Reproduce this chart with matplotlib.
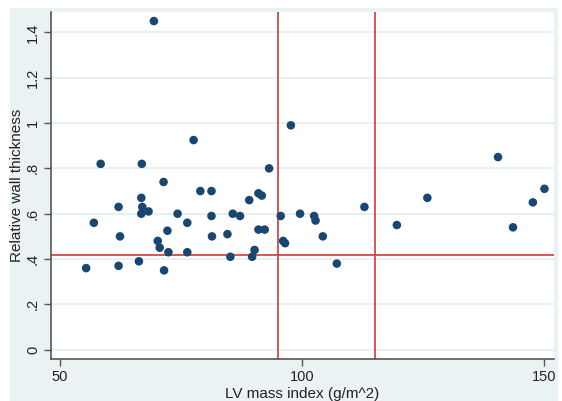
import matplotlib
matplotlib.use("Agg")
import matplotlib.pyplot as plt
from matplotlib.patches import Rectangle

plt.rcParams['font.family'] = ['Liberation Sans', 'DejaVu Sans']

lv_mass = [55.4, 57.0, 58.4, 62.1, 62.4, 62.1, 66.3, 66.8, 67.0, 68.3,
           66.8, 66.9, 69.4, 70.2, 70.6, 71.5, 71.4, 72.2, 72.4, 74.3,
           76.3, 76.3, 77.6, 79.0, 81.3, 81.3, 81.4, 84.6, 85.2, 85.7,
           87.2, 89.1, 89.7, 90.2, 91.0, 91.7, 91.0, 92.3, 93.2, 95.6,
           96.1, 96.5, 97.7, 99.6, 102.5, 102.8, 104.3, 107.2, 112.9, 119.6,
           125.9, 140.5, 143.6, 147.7, 150.1]
rwt = [0.36, 0.56, 0.82, 0.63, 0.50, 0.37, 0.39, 0.60, 0.63, 0.61,
       0.67, 0.82, 1.45, 0.48, 0.45, 0.35, 0.74, 0.525, 0.43, 0.60,
       0.56, 0.43, 0.925, 0.70, 0.70, 0.59, 0.50, 0.51, 0.41, 0.60,
       0.59, 0.66, 0.41, 0.44, 0.69, 0.68, 0.53, 0.53, 0.80, 0.59,
       0.48, 0.47, 0.99, 0.60, 0.59, 0.57, 0.50, 0.38, 0.63, 0.55,
       0.67, 0.85, 0.54, 0.65, 0.71]

vlines = [95, 115]
hline = 0.42

xticks = [50, 100, 150]
xtick_labels = ["50", "100", "150"]
yticks = [0, 0.2, 0.4, 0.6, 0.8, 1.0, 1.2, 1.4]
ytick_labels = ["0", ".2", ".4", ".6", ".8", "1", "1.2", "1.4"]

W, H = 562, 401
fig = plt.figure(figsize=(W / 100, H / 100), dpi=100, facecolor="white")
bg = "#EAF2F3"
fig.patches.append(Rectangle((10 / W, 0), (558 - 10) / W, (H - 8) / H,
                             transform=fig.transFigure, facecolor=bg,
                             edgecolor="none", zorder=-10))

ax = fig.add_axes([51 / W, (H - 359) / H, (554 - 51) / W, (359 - 12) / H])
ax.set_facecolor("white")

ax.set_xlim(48.14, 152.07)
ax.set_ylim(-0.041, 1.49)

for yv in yticks:
    ax.axhline(yv, color="#E3EEF1", lw=1.2, zorder=0)

ax.scatter(lv_mass, rwt, s=38, color="#1A476F", edgecolors="none", zorder=3)

for xv in vlines:
    ax.axvline(xv, color="#D0393B", lw=1.2, zorder=2)
ax.axhline(hline, color="#D0393B", lw=1.2, zorder=2)

ax.set_xticks(xticks)
ax.set_xticklabels(xtick_labels)
ax.set_yticks(yticks)
ax.set_yticklabels(ytick_labels, rotation=90, va="center")

ax.tick_params(axis="both", direction="out", length=5, width=1,
               color="#555555", labelsize=10.5, labelcolor="#222222", pad=3)

for side in ["top", "right"]:
    ax.spines[side].set_visible(False)
for side in ["left", "bottom"]:
    ax.spines[side].set_color("#555555")
    ax.spines[side].set_linewidth(1.2)

ax.set_xlabel("LV mass index (g/m^2)", fontsize=11, color="#222222", labelpad=2)
ax.set_ylabel("Relative wall thickness", fontsize=11, color="#222222", labelpad=1)

fig.savefig("out.png", dpi=100, facecolor="white")
